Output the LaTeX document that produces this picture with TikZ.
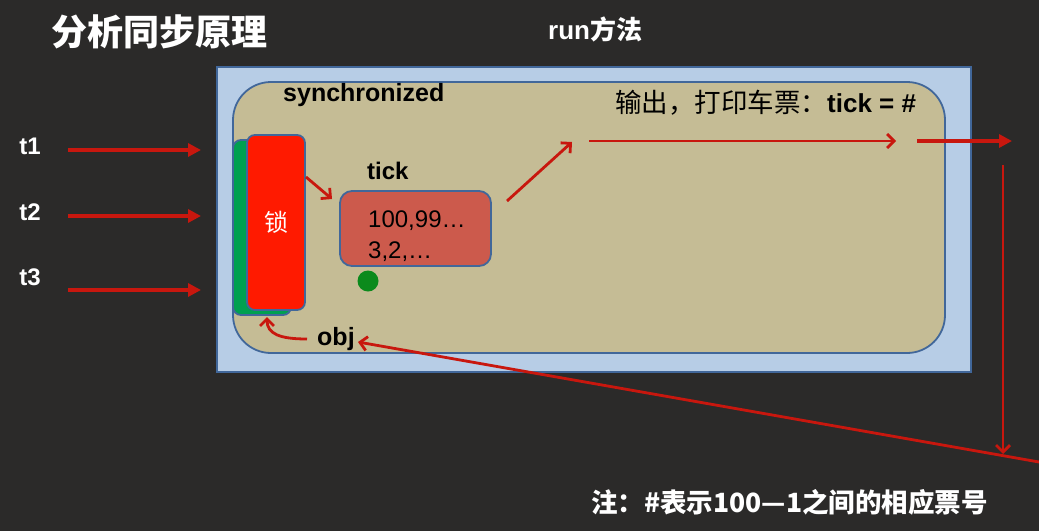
\documentclass[tikz,border=0pt]{standalone}
\usepackage{fontspec}
\setmainfont{Liberation Sans}
\newfontfamily\cjk{Noto Sans CJK SC}
\usetikzlibrary{arrows.meta}
\definecolor{bgc}{HTML}{2B2A29}
\definecolor{outerc}{HTML}{B7CDE6}
\definecolor{bordc}{HTML}{41679A}
\definecolor{innerc}{HTML}{C5BC95}
\definecolor{greenc}{HTML}{00A050}
\definecolor{lockc}{HTML}{FF1A00}
\definecolor{tickc}{HTML}{CC5A4C}
\definecolor{arrc}{HTML}{C8170E}
\definecolor{dotc}{HTML}{0B8A1C}
\tikzset{
  arr/.style={draw=arrc, line width=2.8pt, -{Straight Barb[length=7pt,width=14pt]}},
  farr/.style={draw=arrc, line width=3.2pt, -{Triangle[length=13pt,width=13pt]}},
  boxb/.style={draw=bordc, line width=1.8pt, inner sep=0pt},
  wlbl/.style={text=white, inner sep=0pt, font=\fontsize{24}{28}\selectfont\bfseries},
  blbl/.style={text=black, inner sep=0pt, font=\fontsize{24}{28}\selectfont\bfseries},
  nlbl/.style={text=black, inner sep=0pt, font=\fontsize{24}{28}\selectfont},
}
\begin{document}
\begin{tikzpicture}[x=1pt,y=-1pt]
\useasboundingbox (0,0) rectangle (1039,531);
\fill[bgc] (0,0) rectangle (1039,531);

% boxes
\node[boxb, fill=outerc, minimum width=754pt, minimum height=305pt] (outer) at (594,219.5) {};
\node[boxb, fill=innerc, rounded corners=38pt, minimum width=712pt, minimum height=271pt] (inner) at (589,217.5) {};
\node[boxb, fill=greenc, rounded corners=8pt, minimum width=58pt, minimum height=175pt] (green) at (262,227.5) {};
\node[boxb, fill=lockc, rounded corners=8pt, minimum width=58pt, minimum height=175pt, text=white, font=\cjk\fontsize{24}{28}\selectfont] (lock) at (276,222.5) {锁};
\node[boxb, fill=tickc, rounded corners=12pt, minimum width=151pt, minimum height=75pt] (tickbox) at (415.5,228.5) {};
\node[circle, fill=dotc, minimum size=21pt, inner sep=0pt] (dot) at (368,281) {};

% texts
\node[wlbl, anchor=west, font=\cjk\fontsize{36}{40}\selectfont\bfseries] (title) at (51,32) {分析同步原理};
\node[wlbl, anchor=west, font=\fontsize{26}{30}\selectfont\bfseries] (run) at (548,29) {run{\cjk 方法}};
\node[blbl, anchor=base west, font=\fontsize{25}{30}\selectfont\bfseries] (sync) at (283,101) {synchronized};
\node[nlbl, anchor=base west, font=\fontsize{26}{30}\selectfont] (out) at (615,112) {{\cjk\fontsize{26.5}{30}\selectfont 输出，打印车票：}\textbf{tick = \#}};
\node[wlbl] (t1) at (30,146) {t1};
\node[wlbl] (t2) at (30,212) {t2};
\node[wlbl] (t3) at (30,277) {t3};
\node[blbl, anchor=base west] (tick) at (367,179) {tick};
\node[nlbl, anchor=base west] (v1) at (368,227) {100,99…};
\node[nlbl, anchor=base west] (v2) at (368,258) {3,2,…};
\node[blbl, anchor=base west, font=\fontsize{25}{30}\selectfont\bfseries] (obj) at (317,345) {obj};
\node[wlbl, anchor=west, font=\cjk\fontsize{26.5}{30}\selectfont\bfseries] (note) at (591,502) {注：\#表示100—1之间的相应票号};

% connector ends
\coordinate (t1s) at (68,150); \coordinate (t1e) at (201,150);
\coordinate (t2s) at (68,216); \coordinate (t2e) at (201,216);
\coordinate (t3s) at (68,290); \coordinate (t3e) at (201,290);
\coordinate (lk) at (306,177); \coordinate (tk) at (332,199);
\coordinate (up1) at (507,201); \coordinate (up2) at (572,142);
\coordinate (h1) at (589,141); \coordinate (h2) at (896,141);
\coordinate (h3) at (917,141); \coordinate (h4) at (1012,141);
\coordinate (v1s) at (1003,165); \coordinate (v1e) at (1003,454);
\coordinate (dg) at (1039,462); \coordinate (ob) at (358,342);
\coordinate (cs) at (307,339); \coordinate (ce) at (267,317);

% connectors
\draw[farr] (t1s) -- (t1e);
\draw[farr] (t2s) -- (t2e);
\draw[farr] (t3s) -- (t3e);
\draw[arr] (lk) -- (tk);
\draw[arr] (up1) -- (up2);
\draw[arr] (h1) -- (h2);
\draw[farr] (h3) -- (h4);
\draw[arr] (v1s) -- (v1e);
\draw[arr] (dg) -- (ob);
\draw[arr] (cs) .. controls (280,339) and (267,334) .. (ce);
\end{tikzpicture}
\end{document}
